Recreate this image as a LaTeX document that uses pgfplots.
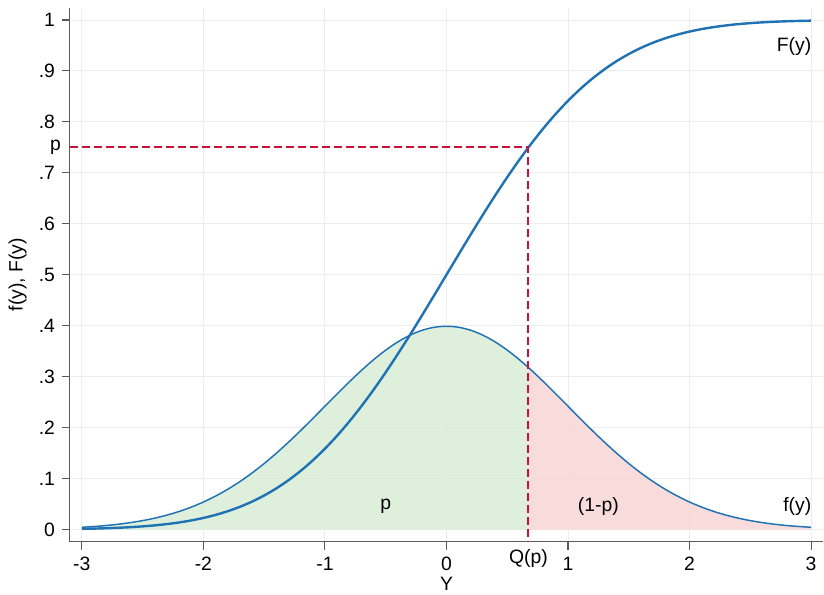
\documentclass[border=0pt]{standalone}
\usepackage{pgfplots}
\pgfplotsset{compat=1.18}
\usepackage{pgfplotstable}
\usepgfplotslibrary{fillbetween}
\usepackage{fontspec}
\setmainfont{Liberation Sans}

\definecolor{fblue}{RGB}{31,114,180}
\definecolor{qred}{RGB}{200,16,56}
\definecolor{pgreen}{RGB}{218,238,216}
\definecolor{ppink}{RGB}{247,216,216}
\definecolor{axgray}{RGB}{90,90,90}

% standard normal density and distribution function
\pgfplotstableread{
x     pdf       cdf
-3.0  0.004432  0.001350
-2.9  0.005953  0.001866
-2.8  0.007915  0.002555
-2.7  0.010421  0.003467
-2.6  0.013583  0.004661
-2.5  0.017528  0.006210
-2.4  0.022395  0.008198
-2.3  0.028327  0.010724
-2.2  0.035475  0.013903
-2.1  0.043984  0.017864
-2.0  0.053991  0.022750
-1.9  0.065616  0.028717
-1.8  0.078950  0.035930
-1.7  0.094049  0.044565
-1.6  0.110921  0.054799
-1.5  0.129518  0.066807
-1.4  0.149727  0.080757
-1.3  0.171369  0.096800
-1.2  0.194186  0.115070
-1.1  0.217852  0.135666
-1.0  0.241971  0.158655
-0.9  0.266085  0.184060
-0.8  0.289692  0.211855
-0.7  0.312254  0.241964
-0.6  0.333225  0.274253
-0.5  0.352065  0.308538
-0.4  0.368270  0.344578
-0.3  0.381388  0.382089
-0.2  0.391043  0.420740
-0.1  0.396953  0.460172
 0.0  0.398942  0.500000
 0.1  0.396953  0.539828
 0.2  0.391043  0.579260
 0.3  0.381388  0.617911
 0.4  0.368270  0.655422
 0.5  0.352065  0.691462
 0.6  0.333225  0.725747
 0.7  0.312254  0.758036
 0.8  0.289692  0.788145
 0.9  0.266085  0.815940
 1.0  0.241971  0.841345
 1.1  0.217852  0.864334
 1.2  0.194186  0.884930
 1.3  0.171369  0.903200
 1.4  0.149727  0.919243
 1.5  0.129518  0.933193
 1.6  0.110921  0.945201
 1.7  0.094049  0.955435
 1.8  0.078950  0.964070
 1.9  0.065616  0.971283
 2.0  0.053991  0.977250
 2.1  0.043984  0.982136
 2.2  0.035475  0.986097
 2.3  0.028327  0.989276
 2.4  0.022395  0.991802
 2.5  0.017528  0.993790
 2.6  0.013583  0.995339
 2.7  0.010421  0.996533
 2.8  0.007915  0.997445
 2.9  0.005953  0.998134
 3.0  0.004432  0.998650
}\normtab

\begin{document}
\begin{tikzpicture}[font=\fontsize{14.5}{17}\selectfont]
\begin{axis}[
    scale only axis,
    width=565pt, height=400pt,
    xmin=-3.1, xmax=3.1,
    ymin=-0.0235, ymax=1.0235,
    axis lines=left,
    axis line style={-, axgray, line width=1.1pt},
    xtick={-3,-2,-1,0,1,2,3},
    xticklabels={-3,-2,-1,0,1,2,3},
    ytick={0,0.1,0.2,0.3,0.4,0.5,0.6,0.7,0.8,0.9,1},
    yticklabels={0,.1,.2,.3,.4,.5,.6,.7,.8,.9,1},
    tick align=outside,
    major tick length=6pt,
    tick style={axgray, line width=0.8pt},
    grid=major,
    major grid style={gray!14, line width=0.7pt},
    ticklabel style={font=\fontsize{14.5}{17}\selectfont},
    xticklabel style={yshift=-2pt},
    yticklabel style={xshift=-1.5pt},
    label style={font=\fontsize{14.5}{17}\selectfont},
    xlabel={Y},
    ylabel={f(y), F(y)},
    xlabel style={at={(axis description cs:0.5,-0.079)}, anchor=center},
    ylabel style={at={(axis description cs:-0.069,0.5)}, anchor=center, inner sep=6.5pt},
    clip=false,
]
\addplot[draw=none, name path=pdf, forget plot] table[x=x, y=pdf] {\normtab};
\addplot[draw=none, name path=base, forget plot] coordinates {(-3,0) (3,0)};
\addplot[fill=pgreen, fill opacity=0.9, draw=none]
    fill between[of=pdf and base, soft clip={domain=-3:0.6745}];
\addplot[fill=ppink, fill opacity=0.9, draw=none]
    fill between[of=pdf and base, soft clip={domain=0.6745:3}];
\addplot[fblue, line width=1.1pt, smooth] table[x=x, y=pdf] {\normtab};
\addplot[fblue, line width=1.8pt, smooth] table[x=x, y=cdf] {\normtab};
\addplot[qred, line width=1.5pt, dash pattern=on 6pt off 3pt]
    coordinates {(-3.1,0.75) (0.6745,0.75) (0.6745,-0.0235)};

\node at (axis cs:-0.5,0.045) {p};
\node at (axis cs:1.25,0.045) {(1-p)};
\node[anchor=east] at (axis cs:3.04,0.045) {f(y)};
\node[anchor=east] at (axis cs:3.04,0.947) {F(y)};
\node[anchor=east] at (axis cs:-3.1,0.75) [xshift=-3pt] {p};
\node at (axis cs:0.6745,-0.0235) [yshift=-13pt] {Q(p)};
\end{axis}
\path ([yshift=6pt]current axis.north west);
\end{tikzpicture}
\end{document}
